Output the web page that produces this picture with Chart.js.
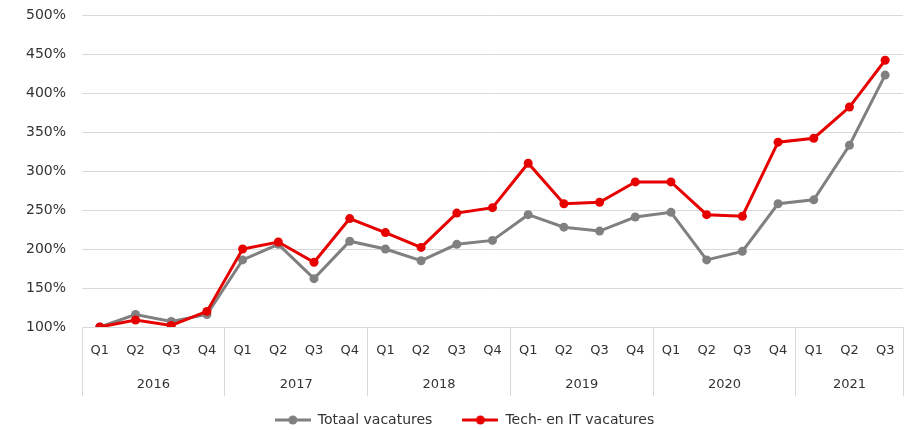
<!DOCTYPE html>
<html>
<head>
<meta charset="utf-8">
<script src="https://cdn.jsdelivr.net/npm/chart.js@4"></script>
<style>
  html, body { margin: 0; padding: 0; background: #fff; overflow: hidden; }
  /* a little taller than the window so the legend row lands at the right height */
  #wrap { width: 910px; height: 437px; }
</style>
</head>
<body>
<div id="wrap"><canvas id="grafiek"></canvas></div>
<script>
// quarters per year, 2016 Q1 .. 2021 Q3
const jaren = ['2016', '2017', '2018', '2019', '2020', '2021'];
const kwartalen = [
  'Q1', 'Q2', 'Q3', 'Q4', 'Q1', 'Q2', 'Q3', 'Q4', 'Q1', 'Q2', 'Q3', 'Q4',
  'Q1', 'Q2', 'Q3', 'Q4', 'Q1', 'Q2', 'Q3', 'Q4', 'Q1', 'Q2', 'Q3'
];
const totaal = [100, 116, 107, 116, 186, 206, 162, 210, 200, 185, 206, 211,
  244, 228, 223, 241, 247, 186, 197, 258, 263, 333, 423];
const techIT = [100, 109, 102, 120, 200, 209, 183, 239, 221, 202, 246, 253,
  310, 258, 260, 286, 286, 244, 242, 337, 342, 382, 442];
const yTicks = [100, 150, 200, 250, 300, 350, 400, 450, 500];

const GRIJS = '#808080';
const ROOD = '#e60000';
const LIJN = '#d9d9d9';
const TEKST = '#333333';

Chart.defaults.font.family = "'DejaVu Sans', sans-serif";
Chart.defaults.color = TEKST;

// legend marker: short line with a dot in the middle
function legendMarker(kleur) {
  const c = document.createElement('canvas');
  c.width = 36;
  c.height = 10;
  const g = c.getContext('2d');
  g.strokeStyle = kleur;
  g.lineWidth = 3;
  g.beginPath();
  g.moveTo(0, 5);
  g.lineTo(36, 5);
  g.stroke();
  g.fillStyle = kleur;
  g.beginPath();
  g.arc(18, 5, 4.5, 0, Math.PI * 2);
  g.fill();
  return c;
}

// year labels under the quarter row
const jaarLabels = {
  id: 'jaarLabels',
  afterDraw(chart) {
    const x = chart.scales.x;
    const ctx = chart.ctx;
    ctx.save();
    ctx.font = "13px 'DejaVu Sans', sans-serif";
    ctx.fillStyle = TEKST;
    ctx.textAlign = 'center';
    ctx.textBaseline = 'middle';
    jaren.forEach((jaar, j) => {
      const eerste = j * 4;
      const laatste = Math.min(eerste + 3, kwartalen.length - 1);
      const midden = (x.getPixelForValue(eerste) + x.getPixelForValue(laatste)) / 2;
      ctx.fillText(jaar, midden, x.top + 58);
    });
    ctx.restore();
  }
};

new Chart(document.getElementById('grafiek'), {
  type: 'line',
  data: {
    labels: kwartalen,
    datasets: [
      {
        label: 'Totaal vacatures',
        data: totaal,
        borderColor: GRIJS,
        backgroundColor: GRIJS,
        borderWidth: 3,
        pointRadius: 4.5,
        pointBorderWidth: 0,
        pointBackgroundColor: GRIJS,
        tension: 0,
        order: 1
      },
      {
        label: 'Tech- en IT vacatures',
        data: techIT,
        borderColor: ROOD,
        backgroundColor: ROOD,
        borderWidth: 3,
        pointRadius: 4.5,
        pointBorderWidth: 0,
        pointBackgroundColor: ROOD,
        tension: 0,
        order: 0
      }
    ]
  },
  options: {
    responsive: true,
    maintainAspectRatio: false,
    animation: false,
    layout: {
      padding: { top: 15, right: 7, left: 26, bottom: 0 }
    },
    scales: {
      x: {
        type: 'category',
        offset: true,
        afterFit: (scale) => { scale.height = 56; },
        border: { display: true, color: LIJN, width: 1 },
        grid: {
          offset: true,
          drawOnChartArea: false,
          drawTicks: true,
          tickLength: 69,
          lineWidth: 1,
          color: (c) => (c.index === undefined || c.index % 4 === 0) ? LIJN : 'rgba(0,0,0,0)'
        },
        ticks: {
          autoSkip: false,
          maxRotation: 0,
          padding: -53,
          color: TEKST,
          font: { size: 13 }
        }
      },
      y: {
        min: 100,
        max: 500,
        afterFit: (scale) => {
          scale.width = 56;
          scale.paddingTop = 0;
          scale.paddingBottom = 0;
        },
        afterBuildTicks: (scale) => { scale.ticks = yTicks.map(v => ({ value: v })); },
        border: { display: false },
        grid: { color: LIJN, lineWidth: 1, drawTicks: false },
        ticks: {
          padding: 16,
          color: TEKST,
          font: { size: 14 },
          callback: (v) => v + '%'
        }
      }
    },
    plugins: {
      tooltip: { enabled: false },
      legend: {
        position: 'bottom',
        labels: {
          usePointStyle: true,
          pointStyleWidth: 36,
          padding: 30,
          color: TEKST,
          font: { size: 14 },
          generateLabels: (chart) => chart.data.datasets.map((ds, i) => ({
            text: ds.label,
            fillStyle: ds.borderColor,
            strokeStyle: ds.borderColor,
            fontColor: TEKST,
            lineWidth: 0,
            pointStyle: legendMarker(ds.borderColor),
            hidden: !chart.isDatasetVisible(i),
            datasetIndex: i
          }))
        }
      }
    }
  },
  plugins: [jaarLabels]
});
</script>
</body>
</html>
